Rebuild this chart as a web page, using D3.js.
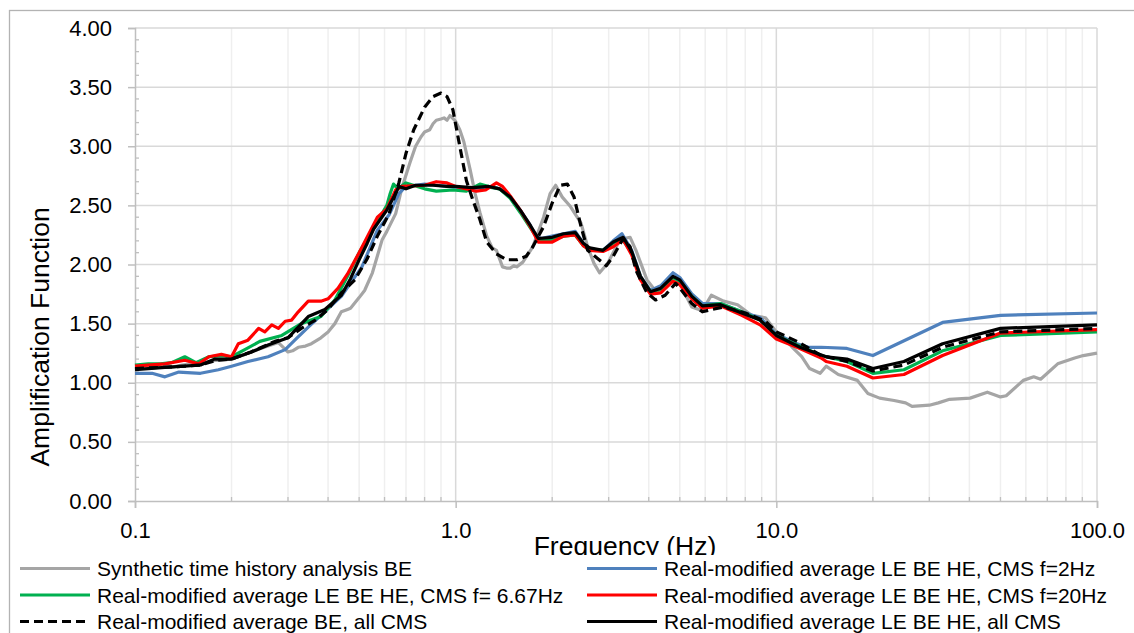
<!DOCTYPE html>
<html><head><meta charset="utf-8">
<script src="https://cdn.jsdelivr.net/npm/d3@7"></script>
<style>body{margin:0;background:#fff}svg{display:block}</style>
</head><body><svg id="c" width="1134" height="633"></svg>
<script>
// ---------- DATA ----------
const seriesNames = [
  "Synthetic time history analysis BE",
  "Real-modified average LE BE HE, CMS f=2Hz",
  "Real-modified average LE BE HE, CMS f= 6.67Hz",
  "Real-modified average LE BE HE, CMS f=20Hz",
  "Real-modified average BE, all CMS",
  "Real-modified average LE BE HE, all CMS"
];
const yTickValues = [0, 0.5, 1, 1.5, 2, 2.5, 3, 3.5, 4];
const xTickValues = [0.1, 1, 10, 100];
const xTickLabels = ["0.1", "1.0", "10.0", "100.0"];

const synthF = [0.1,0.11,0.12,0.13,0.14,0.15,0.16,0.17,0.18,0.2,0.22,0.24,0.26,0.28,0.29,0.3,0.31,0.323,0.34,0.355,0.38,0.4,0.42,0.44,0.46,0.47,0.5,0.52,0.55,0.59,0.61,0.65,0.68,0.72,0.75,0.78,0.8,0.83,0.85,0.87,0.9,0.92,0.94,0.96,1.0,1.03,1.06,1.11,1.15,1.19,1.25,1.3,1.34,1.4,1.44,1.48,1.52,1.55,1.62,1.74,1.88,1.97,2.05,2.15,2.28,2.46,2.58,2.7,2.81,2.98,3.21,3.35,3.5,3.65,3.95,4.25,4.65,5.0,5.45,5.88,6.27,6.85,7.57,8.37,9.25,10,10.5,11.3,12.0,12.7,13.7,14.3,15.6,17.9,19.3,21,23.3,25.3,26.5,30,32,34.7,40.2,45.5,50,52.1,58.9,63.5,66.7,75.4,85.2,90.6,100];
const synthA = [1.12,1.13,1.13,1.13,1.15,1.16,1.15,1.18,1.19,1.2,1.24,1.28,1.31,1.34,1.3,1.26,1.27,1.3,1.31,1.33,1.38,1.43,1.5,1.6,1.62,1.63,1.72,1.78,1.93,2.21,2.28,2.43,2.65,2.86,3.0,3.08,3.12,3.14,3.19,3.22,3.23,3.24,3.22,3.26,3.21,3.14,3.04,2.8,2.6,2.44,2.24,2.14,2.12,1.98,1.97,1.97,1.99,1.98,2.02,2.15,2.4,2.6,2.67,2.57,2.49,2.35,2.15,2.01,1.93,2.01,2.18,2.22,2.23,2.12,1.87,1.76,1.87,1.84,1.64,1.61,1.74,1.69,1.66,1.57,1.55,1.43,1.39,1.29,1.22,1.12,1.08,1.14,1.07,1.02,0.91,0.87,0.85,0.83,0.8,0.81,0.83,0.86,0.87,0.92,0.88,0.89,1.02,1.05,1.03,1.16,1.21,1.23,1.25];

const blueF = [0.1,0.113,0.124,0.137,0.16,0.182,0.2,0.225,0.26,0.294,0.315,0.347,0.38,0.44,0.51,0.57,0.62,0.665,0.7,0.75,0.8,0.87,0.94,1.0,1.1,1.2,1.3,1.37,1.48,1.59,1.71,1.78,1.85,2.0,2.17,2.36,2.5,2.62,2.88,3.1,3.3,3.54,3.77,4.05,4.36,4.76,5.0,5.45,5.88,6.7,7.8,8.9,10,11.6,12.6,13.8,16.6,20,33,50,100];
const blueA = [1.08,1.08,1.05,1.09,1.08,1.11,1.14,1.18,1.22,1.28,1.36,1.47,1.57,1.73,1.98,2.29,2.42,2.6,2.66,2.67,2.68,2.67,2.66,2.65,2.64,2.65,2.66,2.64,2.57,2.46,2.33,2.24,2.22,2.24,2.26,2.28,2.18,2.13,2.12,2.2,2.26,2.12,1.9,1.78,1.82,1.93,1.89,1.75,1.67,1.67,1.6,1.55,1.41,1.33,1.3,1.3,1.29,1.23,1.51,1.57,1.59];

const greenF = [0.1,0.11,0.12,0.13,0.143,0.155,0.17,0.186,0.2,0.22,0.245,0.287,0.33,0.38,0.42,0.46,0.5,0.57,0.61,0.625,0.64,0.66,0.7,0.8,0.87,0.98,1.08,1.19,1.3,1.37,1.48,1.59,1.71,1.81,2.0,2.17,2.36,2.5,2.62,2.88,3.1,3.3,3.54,3.77,4.05,4.36,4.76,5.0,5.45,5.88,6.7,7.8,8.9,10,11.6,13.8,16.6,20,25,33,50,100];
const greenA = [1.15,1.16,1.16,1.17,1.22,1.17,1.22,1.23,1.22,1.28,1.35,1.4,1.5,1.56,1.7,1.9,2.1,2.36,2.5,2.6,2.68,2.64,2.69,2.64,2.62,2.63,2.62,2.68,2.65,2.64,2.56,2.44,2.31,2.21,2.21,2.24,2.25,2.16,2.13,2.12,2.18,2.22,2.1,1.89,1.77,1.79,1.89,1.86,1.73,1.65,1.67,1.6,1.53,1.4,1.32,1.23,1.18,1.08,1.11,1.27,1.4,1.43];

const redF = [0.1,0.124,0.143,0.158,0.17,0.186,0.2,0.21,0.225,0.243,0.254,0.267,0.28,0.294,0.308,0.323,0.347,0.38,0.4,0.43,0.46,0.5,0.57,0.61,0.65,0.68,0.8,0.87,0.94,1.0,1.08,1.16,1.24,1.34,1.4,1.48,1.59,1.71,1.81,2.0,2.17,2.36,2.5,2.62,2.88,3.1,3.33,3.54,3.77,4.05,4.36,4.76,5.0,5.45,5.88,6.7,7.8,8.9,10,11.6,13.8,14.3,16.6,20,25,33,50,100];
const redA = [1.14,1.16,1.19,1.16,1.22,1.24,1.22,1.33,1.36,1.46,1.43,1.49,1.46,1.52,1.53,1.6,1.69,1.69,1.71,1.8,1.92,2.1,2.4,2.47,2.63,2.66,2.67,2.7,2.69,2.66,2.64,2.62,2.63,2.69,2.66,2.58,2.46,2.32,2.19,2.19,2.24,2.25,2.16,2.12,2.11,2.15,2.21,2.08,1.87,1.75,1.76,1.86,1.83,1.71,1.63,1.65,1.57,1.49,1.37,1.3,1.21,1.18,1.14,1.04,1.07,1.23,1.42,1.45];

const dashF = [0.1,0.12,0.143,0.16,0.18,0.2,0.23,0.273,0.3,0.33,0.365,0.4,0.44,0.485,0.53,0.57,0.62,0.665,0.7,0.74,0.8,0.85,0.9,0.94,0.98,1.03,1.08,1.13,1.19,1.25,1.34,1.44,1.55,1.66,1.74,1.88,2.0,2.12,2.23,2.34,2.46,2.58,2.77,2.95,3.1,3.33,3.5,3.65,3.95,4.2,4.5,4.85,5.0,5.45,5.88,6.3,6.85,8.0,9.25,10,11.6,13.8,16.6,20,25,33,50,100];
const dashA = [1.12,1.13,1.14,1.15,1.19,1.2,1.26,1.35,1.38,1.46,1.53,1.62,1.76,1.87,2.05,2.24,2.43,2.69,2.94,3.14,3.33,3.42,3.45,3.42,3.31,3.0,2.71,2.55,2.38,2.19,2.09,2.04,2.04,2.07,2.15,2.32,2.52,2.67,2.68,2.57,2.32,2.12,2.05,1.99,2.07,2.22,2.15,1.95,1.76,1.7,1.74,1.84,1.8,1.67,1.6,1.62,1.64,1.59,1.52,1.43,1.35,1.23,1.18,1.1,1.15,1.3,1.43,1.46];

const allF = [0.1,0.11,0.124,0.143,0.16,0.177,0.2,0.231,0.26,0.3,0.347,0.391,0.44,0.47,0.5,0.53,0.555,0.61,0.65,0.665,0.7,0.75,0.85,0.94,1.0,1.13,1.27,1.37,1.48,1.59,1.71,1.81,2.0,2.17,2.36,2.5,2.62,2.88,3.1,3.33,3.54,3.77,4.05,4.36,4.76,5.0,5.45,5.88,6.7,7.8,8.9,10,11.85,14.3,16.6,20,25,33,50,100];
const allA = [1.11,1.12,1.13,1.14,1.15,1.2,1.2,1.26,1.32,1.38,1.56,1.62,1.74,1.88,2.04,2.18,2.3,2.46,2.6,2.66,2.64,2.67,2.67,2.66,2.66,2.65,2.66,2.64,2.57,2.46,2.33,2.22,2.23,2.26,2.27,2.18,2.14,2.12,2.19,2.23,2.11,1.9,1.77,1.8,1.9,1.87,1.73,1.65,1.66,1.59,1.53,1.4,1.3,1.22,1.2,1.12,1.18,1.33,1.46,1.49];

// ---------- CHART ----------
const svg = d3.select("#c");
const x = d3.scaleLog().domain([0.1, 100]).range([135, 1097]);
const y = d3.scaleLinear().domain([0, 4]).range([501, 28]);
const font = "'Liberation Sans', Arial, sans-serif";

// outer frame
svg.append("rect").attr("x", 9.5).attr("y", 10.5).attr("width", 1300).attr("height", 800)
  .attr("fill", "none").attr("stroke", "#b3b3b3").attr("stroke-width", 1.3);

// minor vertical gridlines
const minorX = [];
[0.1, 1, 10].forEach(d => { for (let k = 2; k <= 9; k++) minorX.push(d * k); });
svg.append("g").selectAll("line").data(minorX).join("line")
  .attr("x1", d => x(d)).attr("x2", d => x(d)).attr("y1", y(4)).attr("y2", y(0))
  .attr("stroke", "#efefef").attr("stroke-width", 1.5);
// major vertical gridlines
svg.append("g").selectAll("line").data(xTickValues.slice(1)).join("line")
  .attr("x1", d => x(d)).attr("x2", d => x(d)).attr("y1", y(4)).attr("y2", y(0))
  .attr("stroke", "#d9d9d9").attr("stroke-width", 1.5);
// horizontal gridlines
svg.append("g").selectAll("line").data(yTickValues.slice(1)).join("line")
  .attr("x1", x(0.1)).attr("x2", x(100)).attr("y1", d => y(d)).attr("y2", d => y(d))
  .attr("stroke", "#d9d9d9").attr("stroke-width", 1.5);

// y axis
const yAxis = svg.append("g").attr("transform", `translate(${x(0.1)},0)`)
  .call(d3.axisLeft(y).tickValues(yTickValues).tickFormat(d3.format(".2f")).tickSize(7).tickPadding(16));
yAxis.select(".domain").attr("stroke", "#bfbfbf").attr("stroke-width", 1.5);
yAxis.selectAll(".tick line").attr("stroke", "#bfbfbf").attr("stroke-width", 1.5);
yAxis.selectAll("text").attr("font-family", font).attr("font-size", 22).attr("fill", "#000");
const minorY = d3.range(0, 4.001, 0.1).filter(v => Math.abs(v * 2 - Math.round(v * 2)) > 1e-6);
svg.append("g").selectAll("line").data(minorY).join("line")
  .attr("x1", x(0.1)).attr("x2", x(0.1) + 4).attr("y1", d => y(d)).attr("y2", d => y(d))
  .attr("stroke", "#bfbfbf").attr("stroke-width", 1.3);

// x axis
const xAxis = svg.append("g").attr("transform", `translate(0,${y(0)})`)
  .call(d3.axisBottom(x).tickValues(xTickValues).tickFormat((d, i) => xTickLabels[i]).tickSize(7).tickPadding(14));
xAxis.select(".domain").attr("stroke", "#bfbfbf").attr("stroke-width", 1.5);
xAxis.selectAll(".tick line").attr("stroke", "#bfbfbf").attr("stroke-width", 1.5);
xAxis.selectAll("text").attr("font-family", font).attr("font-size", 22).attr("fill", "#000");
svg.append("g").selectAll("line").data(minorX).join("line")
  .attr("x1", d => x(d)).attr("x2", d => x(d)).attr("y1", y(0)).attr("y2", y(0) - 4)
  .attr("stroke", "#bfbfbf").attr("stroke-width", 1.3);

// axis titles
svg.append("text").attr("transform", `translate(49,${337}) rotate(-90)`)
  .attr("text-anchor", "middle").attr("font-family", font).attr("font-size", 26.5).attr("fill", "#000")
  .text("Amplification Function");
svg.append("text").attr("x", 625).attr("y", 555).attr("text-anchor", "middle")
  .attr("font-family", font).attr("font-size", 26.5).attr("fill", "#000").text("Frequency (Hz)");

// series
const series = [
  {f: synthF, a: synthA, color: "#a5a5a5", dash: null},
  {f: blueF, a: blueA, color: "#4f81bd", dash: null},
  {f: greenF, a: greenA, color: "#00b050", dash: null},
  {f: redF, a: redA, color: "#ff0000", dash: null},
  {f: dashF, a: dashA, color: "#000000", dash: "9,5"},
  {f: allF, a: allA, color: "#000000", dash: null}
];
const line = d3.line().x(d => x(d[0])).y(d => y(d[1]));
const plot = svg.append("g");
series.forEach(s => {
  plot.append("path").datum(s.f.map((f, i) => [f, s.a[i]]))
    .attr("d", line).attr("fill", "none").attr("stroke", s.color)
    .attr("stroke-width", 3.2).attr("stroke-linejoin", "round")
    .attr("stroke-dasharray", s.dash);
});

// legend (white box overlapping the bottom of the x title)
const leg = svg.append("g");
leg.append("rect").attr("x", 11).attr("y", 555).attr("width", 1123).attr("height", 80).attr("fill", "#fff");
const rowsY = [568.5, 595, 621.5];
const colX = [20, 587];
series.forEach((s, i) => {
  const cx = colX[i % 2], cy = rowsY[Math.floor(i / 2)];
  leg.append("line").attr("x1", cx).attr("x2", cx + 70).attr("y1", cy).attr("y2", cy)
    .attr("stroke", s.color).attr("stroke-width", 3.2).attr("stroke-dasharray", s.dash);
  leg.append("text").attr("x", cx + 77).attr("y", cy + 7.5).attr("font-family", font)
    .attr("font-size", 21).attr("fill", "#000").text(seriesNames[i]);
});
</script></body></html>
